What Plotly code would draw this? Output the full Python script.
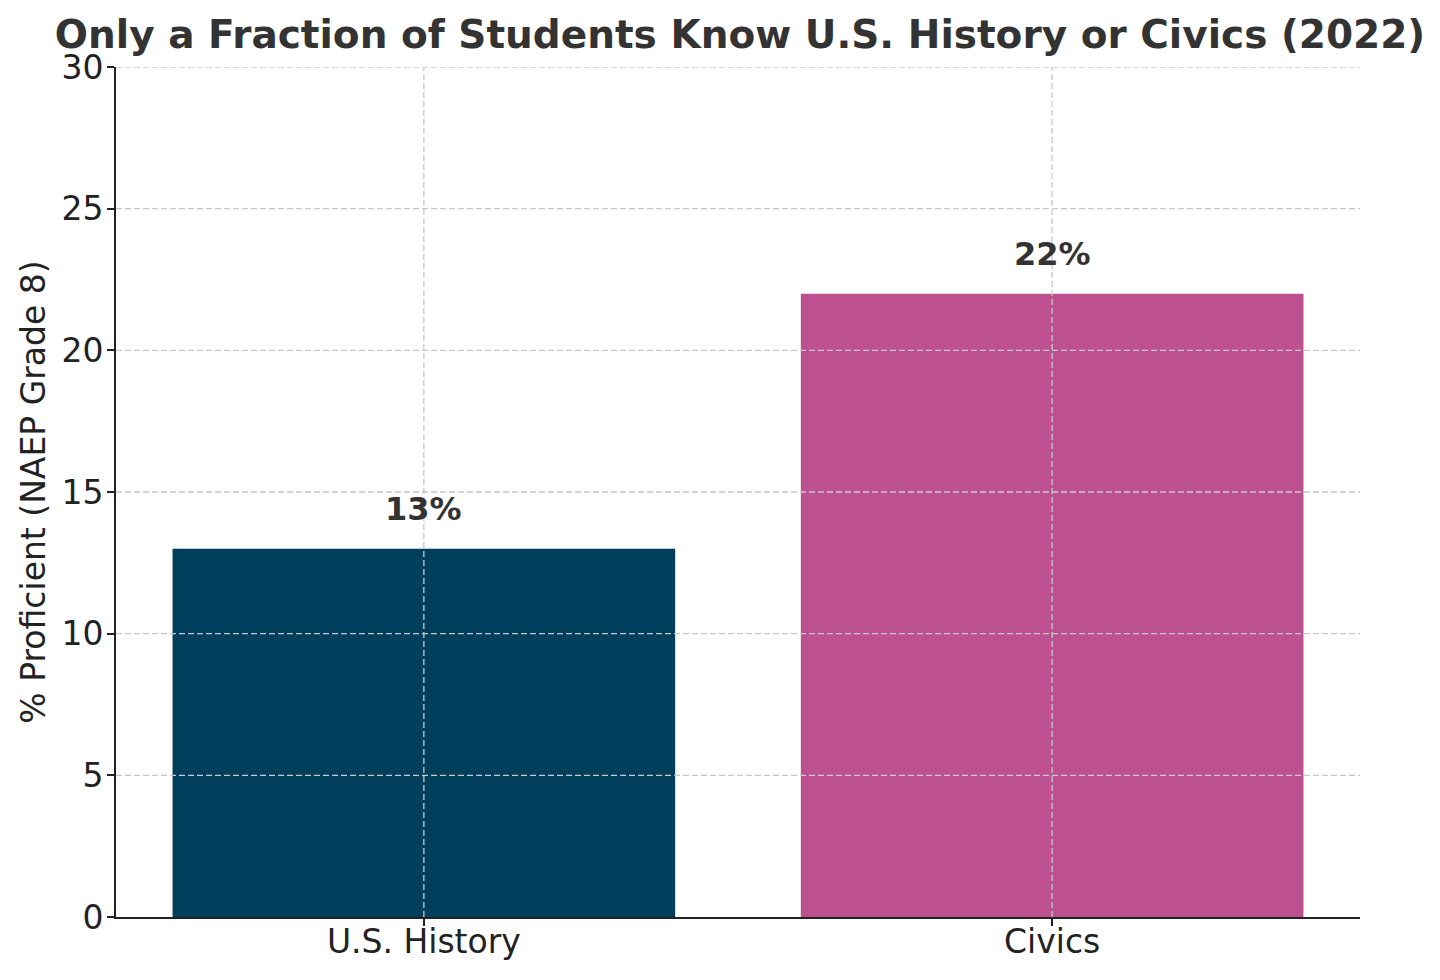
import plotly.graph_objects as go

categories = ["U.S. History", "Civics"]
values = [13, 22]
bar_colors = ["#003f5c", "#bc5090"]
label_texts = ["13%", "22%"]
y_ticks = [0, 5, 10, 15, 20, 25, 30]

FONT = "DejaVu Sans"
OFF = 8  # page body margin offset

fig = go.Figure()
fig.add_trace(go.Bar(
    x=[0, 1], y=values, width=0.8,
    marker=dict(color=bar_colors, line=dict(width=0)),
    hoverinfo="skip", showlegend=False,
))

shapes = []
for t in y_ticks[1:]:
    shapes.append(dict(type="line", xref="paper", yref="y", x0=0, x1=1, y0=t, y1=t,
                       line=dict(color="#c8c8c8", width=1.3, dash="6px,3px"), layer="above"))
for i in range(len(categories)):
    shapes.append(dict(type="line", xref="x", yref="paper", x0=i, x1=i, y0=0, y1=1,
                       line=dict(color="#c8c8c8", width=1.3, dash="6px,3px"), layer="above"))

annotations = []
for i, (v, t) in enumerate(zip(values, label_texts)):
    annotations.append(dict(x=i, y=v + 0.65, xref="x", yref="y", text=f"<b>{t}</b>",
                            showarrow=False, yanchor="bottom", xanchor="center",
                            font=dict(family=FONT, size=32, color="#333333")))

fig.update_layout(
    width=1440, height=980,
    paper_bgcolor="white", plot_bgcolor="white",
    margin=dict(l=116 - OFF, r=80 + OFF, t=67 - OFF, b=63 + OFF),
    font=dict(family=FONT, color="#222222"),
    title=dict(text="<b>Only a Fraction of Students Know U.S. History or Civics (2022)</b>",
               x=(740 - OFF) / 1440, xanchor="center", y=1 - 26 / 980, yanchor="middle",
               font=dict(family=FONT, size=39, color="#333333"), automargin=False),
    shapes=shapes,
    annotations=annotations,
    bargap=0.2,
)
fig.update_xaxes(
    range=[-0.49, 1.49], tickmode="array", tickvals=[0, 1], ticktext=categories,
    showgrid=False, zeroline=False, showline=True, linecolor="#222222", linewidth=2,
    ticks="outside", ticklen=7, tickwidth=1.5, tickcolor="#222222",
    tickfont=dict(family=FONT, size=33, color="#222222"), mirror=False,
    automargin=False, ticklabelstandoff=-13,
)
fig.update_yaxes(
    range=[0, 30], tickmode="array", tickvals=y_ticks,
    showgrid=False, zeroline=False, showline=True, linecolor="#222222", linewidth=2,
    ticks="outside", ticklen=7, tickwidth=1.5, tickcolor="#222222",
    tickfont=dict(family=FONT, size=33, color="#222222"),
    title=dict(text="% Proficient (NAEP Grade 8)", font=dict(family=FONT, size=33, color="#222222"),
               standoff=6),
    automargin=False, ticklabelstandoff=-3,
)

fig.write_html("out.html")
